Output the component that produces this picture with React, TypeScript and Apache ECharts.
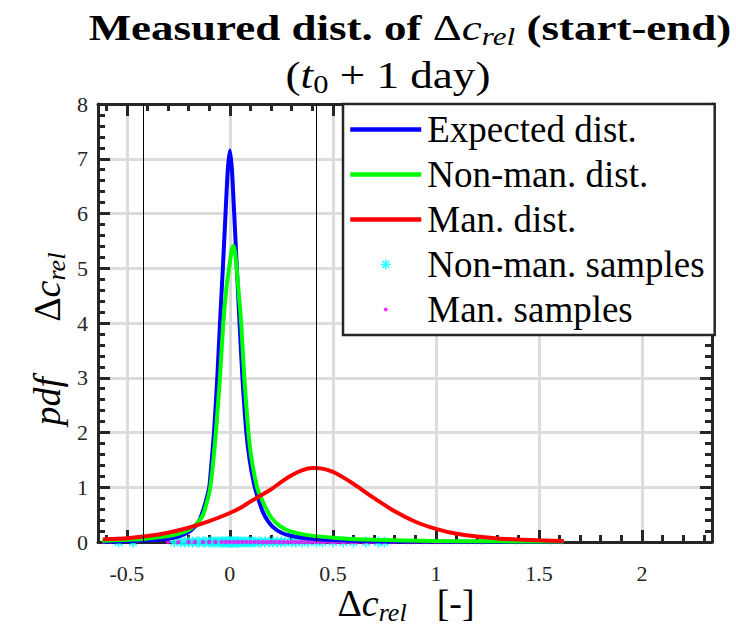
import React, { useEffect, useRef } from 'react';
import * as echarts from 'echarts';

// ---------- data ----------
const xMajorTicks = [-0.5, 0, 0.5, 1, 1.5, 2];
const xMinorTicks = [-0.6, -0.4, -0.3, -0.2, -0.1, 0.1, 0.2, 0.3, 0.4, 0.6, 0.7, 0.8, 0.9, 1.1, 1.2, 1.3, 1.4, 1.6, 1.7, 1.8, 1.9, 2.1, 2.2, 2.3];
const thresholds = [-0.416, 0.416];

const expectedDist = [
  [-0.62, 0.008], [-0.5, 0.015], [-0.4, 0.03], [-0.3, 0.06], [-0.25, 0.1], [-0.2, 0.18], [-0.17, 0.28],
  [-0.15, 0.38], [-0.137, 0.5], [-0.12, 0.7], [-0.1, 1.0], [-0.088, 1.5], [-0.077, 2.0], [-0.061, 3.0],
  [-0.048, 4.0], [-0.034, 5.0], [-0.021, 6.0], [-0.01, 6.8], [0, 7.15], [0.01, 6.8], [0.021, 6.0],
  [0.034, 5.0], [0.047, 4.0], [0.061, 3.0], [0.08, 2.0], [0.096, 1.5], [0.118, 1.05], [0.137, 0.8],
  [0.16, 0.55], [0.185, 0.38], [0.21, 0.27], [0.25, 0.17], [0.29, 0.12], [0.37, 0.07], [0.5, 0.035],
  [0.7, 0.015], [1.0, 0.007], [1.3, 0.004], [1.62, 0.003],
];

const nonManDist = [
  [-0.62, 0.025], [-0.5, 0.04], [-0.4, 0.065], [-0.3, 0.11], [-0.25, 0.15], [-0.2, 0.22], [-0.17, 0.3],
  [-0.15, 0.38], [-0.13, 0.5], [-0.11, 0.75], [-0.095, 1.0], [-0.08, 1.5], [-0.068, 2.0], [-0.048, 3.0],
  [-0.032, 4.0], [-0.015, 4.7], [0.0, 5.1], [0.008, 5.32], [0.016, 5.41], [0.024, 5.32], [0.032, 5.05],
  [0.044, 4.5], [0.055, 4.0], [0.07, 3.0], [0.09, 2.0], [0.106, 1.5], [0.132, 1.0], [0.15, 0.82],
  [0.175, 0.62], [0.2, 0.45], [0.24, 0.3], [0.29, 0.2], [0.37, 0.13], [0.53, 0.07], [0.7, 0.04],
  [1.0, 0.02], [1.3, 0.012], [1.62, 0.008],
];

const manDist = [
  [-0.615, 0.05], [-0.5, 0.07], [-0.4, 0.11], [-0.3, 0.17], [-0.2, 0.26], [-0.1, 0.38], [0, 0.53],
  [0.05, 0.62], [0.1, 0.74], [0.15, 0.85], [0.2, 0.96], [0.25, 1.1], [0.3, 1.22], [0.35, 1.31],
  [0.4, 1.35], [0.45, 1.34], [0.5, 1.28], [0.55, 1.18], [0.6, 1.06], [0.7, 0.8], [0.8, 0.56],
  [0.9, 0.37], [1.0, 0.24], [1.1, 0.15], [1.2, 0.1], [1.3, 0.065], [1.4, 0.045], [1.5, 0.03], [1.62, 0.02],
];

const nonManSamples = [
  -0.54, -0.47, -0.27, -0.24, -0.22, -0.2, -0.18, -0.16, -0.15, -0.13, -0.12, -0.1, -0.09, -0.08, -0.07,
  -0.06, -0.05, -0.04, -0.035, -0.03, -0.02, -0.015, -0.01, -0.005, 0, 0.005, 0.01, 0.015, 0.02, 0.03,
  0.035, 0.04, 0.05, 0.06, 0.07, 0.08, 0.09, 0.1, 0.11, 0.12, 0.14, 0.15, 0.17, 0.19, 0.21, 0.23, 0.25,
  0.27, 0.3, 0.32, 0.35, 0.38, 0.42, 0.45, 0.5, 0.55, 0.6, 0.66, 0.72, 0.75,
];

const manSamples = [
  -0.61, -0.3, -0.25, -0.2, -0.17, -0.13, -0.1, -0.07, -0.04, -0.02, 0.0, 0.02, 0.04, 0.06, 0.08, 0.1,
  0.12, 0.14, 0.16, 0.18, 0.2, 0.22, 0.24, 0.26, 0.28, 0.3, 0.32, 0.34, 0.36, 0.38, 0.4, 0.42, 0.44,
  0.46, 0.48, 0.5, 0.52, 0.54, 0.56, 0.58, 0.6, 0.62, 0.65, 0.68, 0.7, 0.74, 0.78, 0.8, 0.86, 0.88, 0.9,
  0.94, 0.96, 1.0, 1.02, 1.05, 1.08, 1.1, 1.12, 1.16, 1.19, 1.22, 1.23, 1.39, 1.42, 1.56, 1.61,
];

// ---------- styling ----------
const X_MIN = -0.64;
const X_MAX = 2.34;
const AXIS_COLOR = '#262626';
const GRID_COLOR = '#dcdcdc';
const SERIF = "'Liberation Serif', 'Times New Roman', serif";

const asteriskPath =
  'path://M-0.8,-5h1.6v10h-1.6z M-5,-0.8h10v1.6h-10z ' +
  'M-2.97,-4.10L4.10,2.97L2.97,4.10L-4.10,-2.97z ' +
  'M-4.10,2.97L2.97,-4.10L4.10,-2.97L-2.97,4.10z';
const dotLegendPath = 'path://M0,0M10,10M3,5a2,2 0 1,0 4,0a2,2 0 1,0 -4,0z';

const tickLine = { color: AXIS_COLOR, width: 3 };
const tickRich = { t: { fontFamily: SERIF, fontSize: 22, color: AXIS_COLOR } };

function xAxisDef(position: string, major: boolean, labels: boolean) {
  return {
    type: 'value',
    min: X_MIN,
    max: X_MAX,
    position,
    axisLine: { show: major, onZero: false, lineStyle: { color: AXIS_COLOR, width: 3 } },
    axisTick: {
      show: true,
      inside: true,
      length: major ? 12 : 7,
      customValues: major ? xMajorTicks : xMinorTicks,
      lineStyle: tickLine,
    },
    axisLabel: labels
      ? {
          show: true,
          customValues: xMajorTicks,
          margin: 20,
          fontFamily: SERIF,
          fontSize: 22,
          color: AXIS_COLOR,
          formatter: (v: number) => `{t|${v}}`,
          rich: tickRich,
        }
      : { show: false },
    splitLine: labels ? { show: true, lineStyle: { color: GRID_COLOR, width: 3 } } : { show: false },
  };
}

function yAxisDef(position: string, labels: boolean) {
  return {
    type: 'value',
    min: 0,
    max: 8,
    interval: 1,
    position,
    axisLine: { show: true, onZero: false, lineStyle: { color: AXIS_COLOR, width: 3 } },
    axisTick: { show: true, inside: true, length: 12, lineStyle: tickLine },
    minorTick: { show: true, splitNumber: 5, length: 7, lineStyle: tickLine },
    axisLabel: labels
      ? {
          show: true,
          margin: 10,
          fontFamily: SERIF,
          fontSize: 22,
          color: AXIS_COLOR,
          formatter: (v: number) => `{t|${v}}`,
          rich: tickRich,
        }
      : { show: false },
    splitLine: labels ? { show: true, lineStyle: { color: GRID_COLOR, width: 3 } } : { show: false },
  };
}

const option = {
  animation: false,
  backgroundColor: '#ffffff',
  textStyle: { fontFamily: SERIF },
  grid: { left: 98, right: 24, top: 104, bottom: 84, containLabel: false },
  xAxis: [
    xAxisDef('bottom', true, true),
    xAxisDef('bottom', false, false),
    xAxisDef('top', true, false),
    xAxisDef('top', false, false),
  ],
  yAxis: [yAxisDef('left', true), yAxisDef('right', false)],
  legend: {
    orient: 'vertical',
    left: 343,
    top: 104,
    itemWidth: 71,
    itemHeight: 10,
    itemGap: 8,
    padding: [7, 10, 7, 5],
    backgroundColor: '#ffffff',
    borderColor: AXIS_COLOR,
    borderWidth: 2.5,
    selectedMode: false,
    lineStyle: { width: 4.5 },
    textStyle: { fontFamily: SERIF, fontSize: 37, color: '#000000', padding: [0, 0, 0, 1] },
    data: [
      { name: 'Expected dist.', itemStyle: { opacity: 0 } },
      { name: 'Non-man. dist.', itemStyle: { opacity: 0 } },
      { name: 'Man. dist.', itemStyle: { opacity: 0 } },
      { name: 'Non-man. samples', icon: asteriskPath },
      { name: 'Man. samples', icon: dotLegendPath },
    ],
  },
  series: [
    {
      name: 'Expected dist.',
      type: 'line',
      data: expectedDist,
      symbol: 'none',
      smooth: 0.2,
      color: '#0000ff',
      lineStyle: { color: '#0000ff', width: 4 },
    },
    {
      name: 'Non-man. dist.',
      type: 'line',
      data: nonManDist,
      symbol: 'none',
      smooth: 0.2,
      color: '#00ff00',
      lineStyle: { color: '#00ff00', width: 4 },
    },
    {
      name: 'Man. dist.',
      type: 'line',
      data: manDist,
      symbol: 'none',
      smooth: 0.2,
      color: '#ff0000',
      lineStyle: { color: '#ff0000', width: 4 },
      markLine: {
        silent: true,
        symbol: ['none', 'none'],
        label: { show: false },
        lineStyle: { color: '#000000', width: 1, type: 'solid' },
        data: thresholds.map((t) => ({ xAxis: t })),
      },
    },
    {
      name: 'Non-man. samples',
      type: 'scatter',
      data: nonManSamples.map((x) => [x, 0]),
      symbol: asteriskPath,
      symbolSize: 11,
      color: '#00ffff',
      itemStyle: { color: '#00ffff' },
    },
    {
      name: 'Man. samples',
      type: 'scatter',
      data: manSamples.map((x) => [x, 0]),
      symbol: 'circle',
      symbolSize: 4.5,
      color: '#ff00ff',
      itemStyle: { color: '#ff00ff' },
    },
  ],
  graphic: [
    {
      type: 'text',
      x: 410,
      y: 28,
      scaleX: 1.25,
      style: {
        text: '{b|Measured dist. of }{d|Δ}{c|c}{s|rel}{b| (start-end)}',
        align: 'center',
        verticalAlign: 'middle',
        rich: {
          b: { fontFamily: SERIF, fontWeight: 'bold', fontSize: 36, color: '#000' },
          d: { fontFamily: SERIF, fontSize: 36, color: '#000' },
          c: { fontFamily: SERIF, fontStyle: 'italic', fontSize: 36, color: '#000' },
          s: { fontFamily: SERIF, fontStyle: 'italic', fontSize: 25, color: '#000', padding: [18, 0, 0, 0] },
        },
      },
    },
    {
      type: 'text',
      x: 388,
      y: 75,
      scaleX: 1.22,
      style: {
        text: '{n|(}{i|t}{s|0}{n| + 1 day)}',
        align: 'center',
        verticalAlign: 'middle',
        rich: {
          n: { fontFamily: SERIF, fontSize: 37, color: '#000' },
          i: { fontFamily: SERIF, fontStyle: 'italic', fontSize: 37, color: '#000' },
          s: { fontFamily: SERIF, fontSize: 25, color: '#000', padding: [18, 0, 0, 0] },
        },
      },
    },
    {
      type: 'text',
      x: 406,
      y: 603,
      style: {
        text: '{n|Δ}{c|c}{s|rel}{b|[-]}',
        align: 'center',
        verticalAlign: 'middle',
        rich: {
          n: { fontFamily: SERIF, fontSize: 38, color: '#000' },
          c: { fontFamily: SERIF, fontStyle: 'italic', fontSize: 38, color: '#000' },
          s: { fontFamily: SERIF, fontStyle: 'italic', fontSize: 26, color: '#000', padding: [18, 0, 0, 0] },
          b: { fontFamily: SERIF, fontSize: 38, color: '#000', padding: [0, 0, 0, 30] },
        },
      },
    },
    {
      type: 'text',
      x: 47,
      y: 339,
      rotation: Math.PI / 2,
      style: {
        text: '{i|pdf}{n|Δ}{c|c}{s|rel}',
        align: 'center',
        verticalAlign: 'middle',
        rich: {
          i: { fontFamily: SERIF, fontStyle: 'italic', fontSize: 38, color: '#000' },
          n: { fontFamily: SERIF, fontSize: 38, color: '#000', padding: [0, 0, 0, 55] },
          c: { fontFamily: SERIF, fontStyle: 'italic', fontSize: 38, color: '#000' },
          s: { fontFamily: SERIF, fontStyle: 'italic', fontSize: 26, color: '#000', padding: [18, 0, 0, 0] },
        },
      },
    },
  ],
};

export default function App() {
  const ref = useRef<HTMLDivElement>(null);
  useEffect(() => {
    if (!ref.current) return;
    const chart = echarts.init(ref.current, null, { renderer: 'svg' });
    chart.setOption(option as any);
    return () => chart.dispose();
  }, []);
  return (
    <div
      ref={ref}
      style={{ position: 'absolute', left: 0, top: 0, width: 736, height: 626, background: '#fff' }}
    />
  );
}
